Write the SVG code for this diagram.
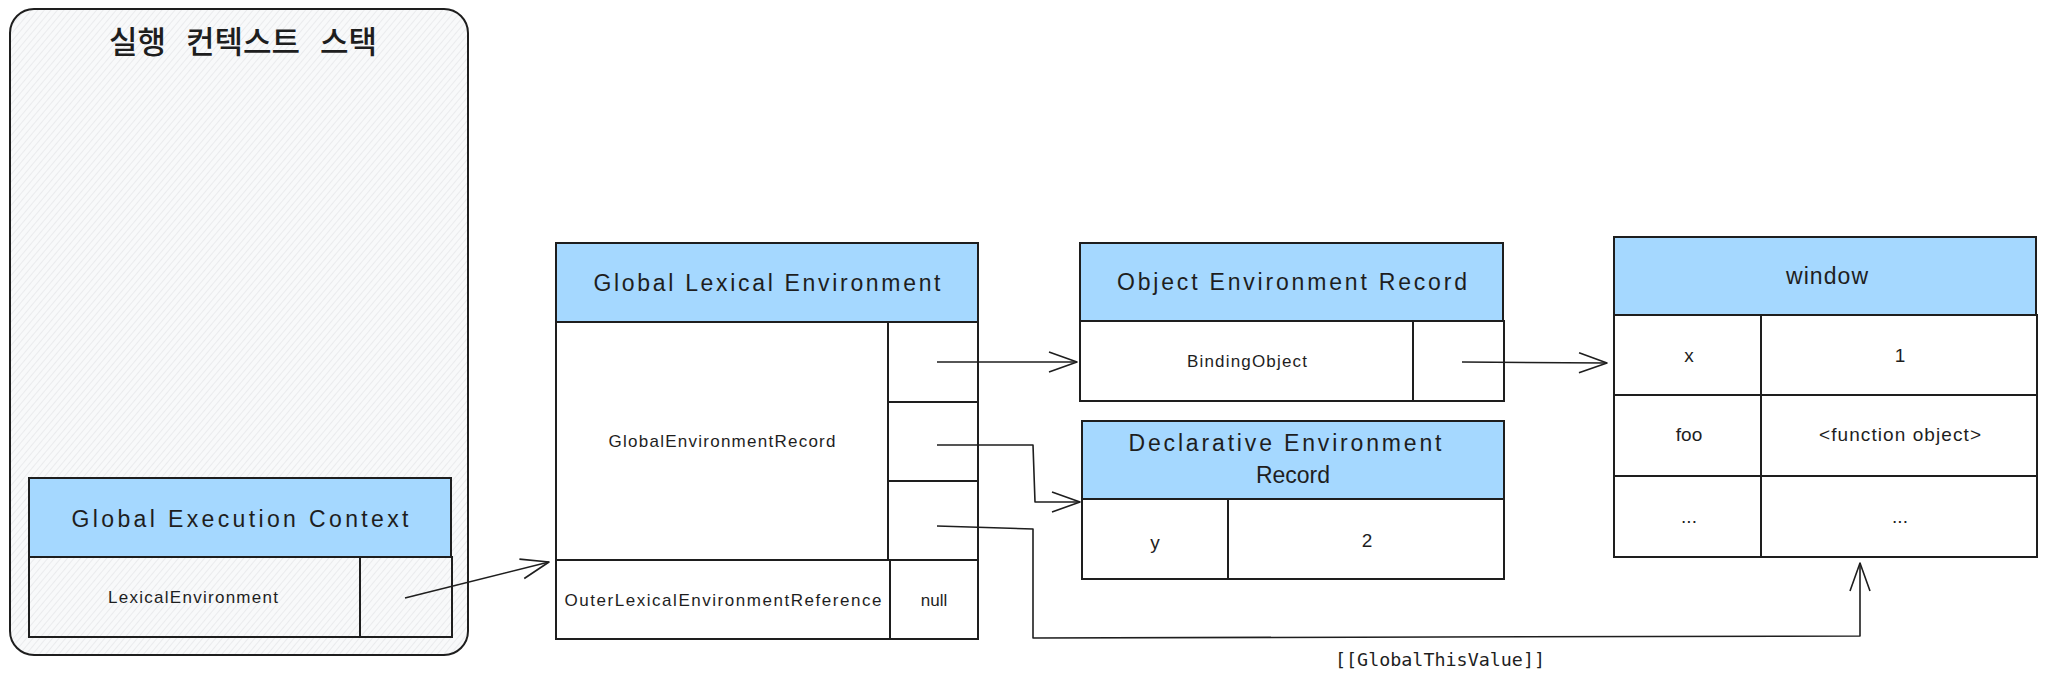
<svg xmlns="http://www.w3.org/2000/svg" width="2048" height="679" viewBox="0 0 2048 679">
<style>
.box{stroke:#1e1e1e;stroke-width:2;fill:#ffffff}
.hdr{stroke:#1e1e1e;stroke-width:2;fill:#a5d8ff}
.hat{stroke:#1e1e1e;stroke-width:2;fill:url(#hatch)}
.ht{font-family:"Liberation Sans",Arial,sans-serif;font-size:23px;fill:#1e1e1e;text-anchor:middle}
.ct{font-family:"Liberation Sans",Arial,sans-serif;font-size:17px;fill:#1e1e1e;text-anchor:middle}
.vt{font-family:"Liberation Sans",Arial,sans-serif;font-size:19px;fill:#1e1e1e;text-anchor:middle}
.conn path{stroke:#1e1e1e;stroke-width:1.6;fill:none;stroke-linejoin:round}
</style>
<defs>
<pattern id="hatch" width="5" height="5" patternUnits="userSpaceOnUse" patternTransform="rotate(40)">
<rect width="5" height="5" fill="#f8f9fa"/>
<line x1="0" y1="0" x2="0" y2="5" stroke="#dcdde0" stroke-width="1"/>
</pattern>
<marker id="arr" markerUnits="userSpaceOnUse" markerWidth="40" markerHeight="30" refX="0" refY="0" viewBox="-32 -15 40 30" orient="auto" overflow="visible">
<path d="M-28,-10 L0,0 L-28,10" fill="none" stroke="#1e1e1e" stroke-width="1.6" stroke-linejoin="round"/>
</marker>
</defs>
<rect width="2048" height="679" fill="#ffffff"/>

<g id="stack">
<rect x="10" y="9" width="458" height="646" rx="24" ry="24" class="hat"/>
<text x="243" y="53" font-family="'Noto Sans CJK KR','Noto Sans CJK SC',sans-serif" font-size="31" font-weight="500" fill="#1e1e1e" text-anchor="middle" word-spacing="13">실행 컨텍스트 스택</text>
</g>

<g id="global-execution-context">
<rect x="29" y="478" width="422" height="79" class="hdr"/>
<text x="240" y="527" class="ht" textLength="337" lengthAdjust="spacing">Global Execution Context</text>
<rect x="29" y="557" width="331" height="80" class="hat"/>
<rect x="360" y="557" width="92" height="80" class="hat"/>
<text x="193" y="603" class="ct" textLength="170" lengthAdjust="spacing">LexicalEnvironment</text>
</g>

<g id="global-lexical-environment">
<rect x="556" y="243" width="422" height="79" class="hdr"/>
<text x="767" y="291" class="ht" textLength="347" lengthAdjust="spacing">Global Lexical Environment</text>
<rect x="556" y="322" width="332" height="238" class="box"/>
<rect x="888" y="322" width="90" height="80" class="box"/>
<rect x="888" y="402" width="90" height="79" class="box"/>
<rect x="888" y="481" width="90" height="79" class="box"/>
<text x="722" y="447" class="ct" textLength="227" lengthAdjust="spacing">GlobalEnvironmentRecord</text>
<rect x="556" y="560" width="334" height="79" class="box"/>
<rect x="890" y="560" width="88" height="79" class="box"/>
<text x="723" y="606" class="ct" textLength="317" lengthAdjust="spacing">OuterLexicalEnvironmentReference</text>
<text x="934" y="606" class="ct">null</text>
</g>

<g id="object-environment-record">
<rect x="1080" y="243" width="423" height="78" class="hdr"/>
<text x="1292" y="290" class="ht" textLength="350" lengthAdjust="spacing">Object Environment Record</text>
<rect x="1080" y="321" width="333" height="80" class="box"/>
<rect x="1413" y="321" width="91" height="80" class="box"/>
<text x="1247" y="367" class="ct" textLength="120" lengthAdjust="spacing">BindingObject</text>
</g>

<g id="declarative-environment-record">
<rect x="1082" y="421" width="422" height="78" class="hdr"/>
<text x="1285" y="451" class="ht" textLength="313" lengthAdjust="spacing">Declarative Environment</text>
<text x="1293" y="483" class="ht">Record</text>
<rect x="1082" y="499" width="146" height="80" class="box"/>
<rect x="1228" y="499" width="276" height="80" class="box"/>
<text x="1155" y="549" class="vt">y</text>
<text x="1367" y="547" class="vt">2</text>
</g>

<g id="window">
<rect x="1614" y="237" width="422" height="78" class="hdr"/>
<text x="1827" y="284" class="ht" textLength="82" lengthAdjust="spacing">window</text>
<rect x="1614" y="315" width="147" height="80" class="box"/>
<rect x="1761" y="315" width="276" height="80" class="box"/>
<rect x="1614" y="395" width="147" height="81" class="box"/>
<rect x="1761" y="395" width="276" height="81" class="box"/>
<rect x="1614" y="476" width="147" height="81" class="box"/>
<rect x="1761" y="476" width="276" height="81" class="box"/>
<text x="1689" y="362" class="vt">x</text>
<text x="1900" y="362" class="vt">1</text>
<text x="1689" y="441" class="vt">foo</text>
<text x="1900" y="441" class="vt" textLength="162" lengthAdjust="spacing">&lt;function object&gt;</text>
<text x="1689" y="523" class="vt">...</text>
<text x="1900" y="523" class="vt">...</text>
</g>

<g id="connectors" class="conn">
<path d="M405,598 L549,562" marker-end="url(#arr)"/>
<path d="M937,362 L1077,362" marker-end="url(#arr)"/>
<path d="M937,445 L1033,445 L1035,502 L1080,502" marker-end="url(#arr)"/>
<path d="M937,526 L1033,529 L1033,638 L1860,636 L1860,563" marker-end="url(#arr)"/>
<path d="M1462,362 L1607,363" marker-end="url(#arr)"/>
<text x="1440" y="666" font-family="'DejaVu Sans Mono','Liberation Mono',monospace" font-size="17" fill="#1e1e1e" text-anchor="middle" textLength="210" lengthAdjust="spacingAndGlyphs">[[GlobalThisValue]]</text>
</g>
</svg>
